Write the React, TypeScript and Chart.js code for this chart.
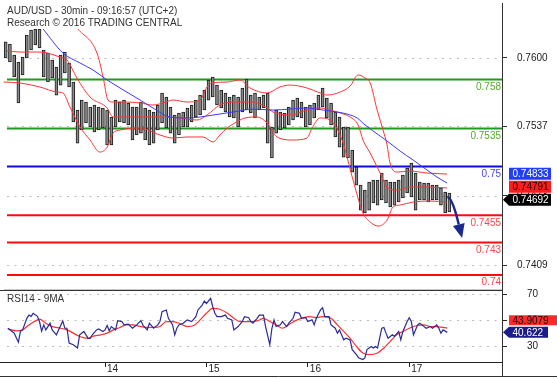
import React, { useEffect, useRef } from 'react';
import { Chart, registerables } from 'chart.js';

Chart.register(...registerables);

const FONT = "'Liberation Sans', Arial, Helvetica, sans-serif";
Chart.defaults.font.family = FONT;

// ---- texts ----
const titleLine1 = 'AUD/USD - 30min - 09:16:57 (UTC+2)';
const titleLine2 = 'Research © 2016 TRADING CENTRAL';
const rsiTitle = 'RSI14 - 9MA';

// ---- x axis (30-min bar index, day boundaries) ----
const dayTickBars = [48, 96, 144, 192];
const dayLabels = ['14', '15', '16', '17'];
const X_MIN = -1.7;
const X_MAX = 235.9;

// ---- price axis ----
const priceTicks = [0.7409, 0.7473, 0.7537, 0.76];
const Y_MIN = 0.738711;
const Y_MAX = 0.762652;

// ---- hourly bars (high / low) ----
const barHigh = [
  0.76146, 0.76127, 0.76026, 0.75961, 0.76007, 0.7621, 0.76256, 0.76265, 0.76265, 0.76072,
  0.76044, 0.7598, 0.75915, 0.76026, 0.76053, 0.75952, 0.75777, 0.75519, 0.75611, 0.75593,
  0.75547, 0.75565, 0.75547, 0.75538, 0.75519, 0.75455, 0.75611, 0.75593, 0.75611, 0.75584,
  0.75547, 0.75547, 0.75593, 0.75538, 0.75519, 0.75501, 0.75565, 0.75676, 0.75639, 0.75547,
  0.75473, 0.75492, 0.75501, 0.75538, 0.75565, 0.75611, 0.75657, 0.75703, 0.75796, 0.75823,
  0.75749, 0.75703, 0.75676, 0.75639, 0.75657, 0.75639, 0.75722, 0.75805, 0.75657, 0.75676,
  0.75639, 0.75657, 0.75676, 0.75363, 0.75519, 0.75501, 0.75492, 0.75547, 0.75611, 0.7563,
  0.75593, 0.75547, 0.75565, 0.75584, 0.75657, 0.75722, 0.7563, 0.75584, 0.75501, 0.75455,
  0.75363, 0.75363, 0.75151, 0.74994, 0.74828, 0.74782, 0.74856, 0.74874, 0.74874, 0.74939,
  0.74874, 0.74856, 0.74856, 0.74874, 0.7492, 0.74985, 0.75031, 0.74939, 0.74856, 0.74847,
  0.74847, 0.74828, 0.74828, 0.74801, 0.74764, 0.74755,
];
const barLow = [
  0.75998, 0.75961, 0.75823, 0.75584, 0.75842, 0.75998, 0.76072, 0.76118, 0.7609, 0.75823,
  0.75777, 0.75814, 0.75657, 0.75749, 0.7586, 0.75731, 0.75409, 0.75215, 0.75335, 0.754,
  0.75363, 0.75317, 0.75335, 0.75354, 0.75197, 0.75197, 0.75363, 0.75409, 0.754, 0.75381,
  0.75243, 0.75289, 0.75307, 0.75243, 0.75197, 0.75215, 0.75335, 0.754, 0.75354, 0.75307,
  0.75215, 0.75289, 0.75363, 0.75363, 0.75409, 0.75455, 0.75473, 0.75519, 0.75611, 0.75639,
  0.75565, 0.75538, 0.75501, 0.75455, 0.75446, 0.75363, 0.75501, 0.75519, 0.75492, 0.75446,
  0.75519, 0.75538, 0.75215, 0.75077, 0.75307, 0.75335, 0.75354, 0.75381, 0.75427, 0.75455,
  0.75446, 0.75363, 0.75381, 0.75446, 0.75519, 0.75547, 0.75446, 0.75381, 0.75271, 0.75178,
  0.75086, 0.75077, 0.74948, 0.74828, 0.74598, 0.74571, 0.74598, 0.74663, 0.74644, 0.74691,
  0.74663, 0.74626, 0.74644, 0.74672, 0.74709, 0.74755, 0.74718, 0.74598, 0.74691, 0.74691,
  0.74672, 0.74691, 0.74691, 0.74644, 0.74571, 0.7458,
];

// ---- Bollinger bands & moving average: [bar index, price] ----
const bbUpper = [
  [35.2, 0.76265], [44.2, 0.76044], [47.1, 0.75823], [49.4, 0.75611], [51.8, 0.75593],
  [57.5, 0.75593], [64.6, 0.75584], [70.7, 0.75565], [75.5, 0.75584], [80.2, 0.75611],
  [86.8, 0.75593], [93.0, 0.75611], [96.3, 0.75731], [98.7, 0.75768], [105.8, 0.75777],
  [111.9, 0.75796], [116.6, 0.75722], [124.7, 0.75676], [130.8, 0.75731], [135.6, 0.75749],
  [143.6, 0.75722], [149.8, 0.75676], [153.1, 0.75657], [159.3, 0.75685], [164.0, 0.7574],
  [167.8, 0.75842], [171.1, 0.75814], [173.5, 0.75768], [176.8, 0.75519], [179.6, 0.75335],
  [181.5, 0.75197], [182.9, 0.75031], [186.2, 0.74948], [192.4, 0.74957], [200.4, 0.74939],
  [209.9, 0.7493],
];
const bbMiddle = [
  [1.6, 0.76063], [7.8, 0.76053], [17.2, 0.76053], [26.7, 0.76007], [30.0, 0.7598],
  [34.7, 0.75814], [40.9, 0.75639], [49.0, 0.75538], [51.8, 0.75455], [55.1, 0.75455],
  [64.6, 0.75455], [74.0, 0.75455], [83.5, 0.75446], [91.6, 0.75427], [96.3, 0.75473],
  [102.4, 0.75565], [108.6, 0.75593], [114.3, 0.75593], [118.1, 0.75593], [124.7, 0.75538],
  [127.5, 0.75501], [135.6, 0.75473], [143.6, 0.75519], [149.8, 0.75538], [154.5, 0.75519],
  [159.3, 0.75492], [164.0, 0.75455], [167.8, 0.75381], [170.1, 0.75243], [173.5, 0.75123],
  [178.2, 0.74939], [181.5, 0.7481], [186.2, 0.74782], [192.4, 0.7481], [200.4, 0.7481],
  [209.9, 0.74801],
];
const bbLower = [
  [0, 0.75777], [7.8, 0.75768], [17.2, 0.75731], [25.3, 0.75685], [28.1, 0.75676],
  [31.4, 0.75547], [36.2, 0.75363], [40.9, 0.75243], [45.6, 0.75132], [49.0, 0.75178],
  [51.8, 0.75307], [55.1, 0.75335], [64.6, 0.75354], [74.0, 0.75289], [80.2, 0.75261],
  [86.8, 0.75271], [94.4, 0.75271], [99.1, 0.75225], [102.4, 0.75289], [105.8, 0.75354],
  [109.5, 0.754], [114.3, 0.75446], [120.0, 0.75455], [124.7, 0.754], [129.4, 0.75271],
  [137.0, 0.75243], [143.6, 0.75261], [146.0, 0.75354], [149.8, 0.75446], [154.5, 0.75427],
  [160.2, 0.75243], [165.4, 0.74874], [170.1, 0.74571], [173.5, 0.74488], [177.2, 0.74451],
  [181.5, 0.74506], [184.3, 0.74626], [187.6, 0.74644], [193.8, 0.74672], [201.8, 0.74681],
  [209.9, 0.74672],
];
const maLine = [
  [18.7, 0.76265], [28.1, 0.76044], [36.2, 0.75952], [42.3, 0.75888], [49.0, 0.75796],
  [55.1, 0.75722], [64.6, 0.75611], [70.7, 0.75538], [78.8, 0.75455], [86.8, 0.75446],
  [93.0, 0.75455], [99.1, 0.75473], [108.6, 0.75501], [118.1, 0.75528], [127.5, 0.75519],
  [135.6, 0.75528], [143.6, 0.75538], [151.2, 0.75519], [157.8, 0.75501], [162.6, 0.75482],
  [167.3, 0.75446], [171.1, 0.75381], [178.2, 0.7528], [181.5, 0.75234], [187.6, 0.75142],
  [193.8, 0.75059], [200.4, 0.74967], [205.1, 0.74902], [209.9, 0.74847],
];

// ---- key levels ----
const levelValues = [0.758, 0.7535, 0.75, 0.7455, 0.743, 0.74];
const levelLabels = ['0.758', '0.7535', '0.75', '0.7455', '0.743', '0.74'];
const levelKinds = ['green', 'green', 'blue', 'red', 'red', 'red'];
const levelStartBar = 1.6;

// ---- last values ----
const lastClose = 0.74692;
const lastMiddle = 0.74791;
const lastMa = 0.74833;

// ---- forecast arrow [bar, price] ----
const forecastFrom = [210, 0.74718];
const forecastBend = [212.3, 0.74718];
const forecastTo = [217, 0.7434];

// ---- RSI14 and its 9MA ----
const rsiBars = [
  2, 4, 5, 7, 8, 9, 11, 12, 13, 14, 16, 17, 18, 19, 20, 22, 23, 25, 26, 28,
  29, 30, 31, 33, 35, 36, 38, 39, 40, 41, 42, 44, 45, 47, 48, 49, 50, 51, 53, 54,
  56, 57, 59, 61, 62, 63, 65, 66, 68, 69, 71, 73, 74, 75, 77, 78, 80, 81, 82, 83,
  85, 86, 87, 89, 91, 92, 94, 95, 96, 98, 99, 100, 101, 103, 105, 106, 108, 109, 111, 113,
  114, 116, 117, 118, 120, 121, 123, 124, 126, 127, 128, 129, 131, 132, 134, 135, 137, 138, 140, 141,
  143, 144, 146, 147, 148, 150, 151, 152, 154, 155, 157, 158, 159, 161, 162, 164, 165, 167, 168, 170,
  171, 172, 174, 175, 176, 177, 179, 180, 181, 182, 184, 185, 187, 188, 189, 191, 192, 193, 194, 196,
  197, 198, 200, 202, 203, 205, 206, 207, 208, 210,
];
const rsiValues = [
  43.8, 41.3, 40, 33, 41.5, 42.5, 51.5, 54, 53, 55.4, 53, 49, 41.5, 46.4, 42.5, 47.7, 42.5, 38.7, 42.5, 49.5,
  43.8, 43.8, 32.3, 31, 28.5, 38.7, 41.3, 38.7, 36, 36, 38.7, 42.5, 43.3, 41.3, 42.5, 45.9, 41.8, 45.1, 42.5, 49.7,
  49, 46.4, 47, 43.8, 45.1, 46.4, 49.7, 45.9, 42.5, 47.7, 43.8, 46.4, 49, 56.7, 58, 51.5, 46.4, 38.7, 43.8, 46.4,
  47.7, 49, 50.3, 49, 52.8, 58, 61.8, 64.9, 63, 67, 60.5, 55.4, 52.8, 52.8, 54, 51.5, 50.3, 42.5, 45.1, 49,
  52.8, 52, 49, 47.7, 51.5, 54, 54, 45.1, 31, 43.8, 50.3, 45.1, 46.4, 49, 45.1, 47.7, 51.5, 56.2, 55.4, 51.5,
  52, 49, 50.3, 46.4, 51.5, 58, 59.7, 52.8, 52.8, 46.4, 43.8, 40, 42.5, 34.8, 36, 34.8, 27.2, 23.3, 20.8, 19.5,
  20.8, 27.2, 29.7, 28.5, 29.7, 28.5, 43.8, 44.4, 40, 36, 38.7, 37.4, 41.3, 34.8, 41.3, 49, 52, 49, 38.7, 46.4,
  47.7, 46.4, 43.8, 45.1, 43.8, 46.4, 43.8, 40, 42.5, 40.6,
];
const rsiMaBars = [
  2, 6, 9, 12, 16, 17, 20, 23, 27, 30, 33, 36, 40, 42, 46, 49, 52, 55, 58, 61,
  65, 68, 71, 74, 77, 80, 83, 87, 90, 93, 96, 99, 102, 106, 109, 112, 116, 120, 123, 126,
  129, 132, 136, 139, 142, 145, 148, 151, 155, 158, 161, 164, 167, 170, 173, 177, 180, 183, 186, 189,
  192, 196, 199, 202, 205, 208, 210,
];
const rsiMaValues = [
  43.3, 41.8, 42.5, 46.4, 50.3, 50.8, 47.7, 45.1, 43.8, 42.5, 40, 37.4, 36, 37.4, 38.7, 40, 42.5, 44.4, 46.4, 46.4,
  45.1, 44.4, 44.4, 45.1, 49, 49, 47.7, 45.1, 45.9, 50.3, 55.4, 59.2, 58.7, 55.4, 51.5, 49, 49, 49.5, 51.5, 49,
  46.4, 43.8, 47.7, 50.3, 52, 52.8, 52, 52.8, 51.5, 46.4, 41.3, 36, 29.7, 24.6, 23.3, 24.6, 28.5, 33.6, 38.7, 41.3,
  43.8, 45.9, 46.4, 45.1, 45.1, 44.4, 43.9,
];
const rsiTicks = [30, 50, 70];
const RSI_MIN = 17.6;
const RSI_MAX = 72.7;
const lastRsi = 40.622;
const lastRsiMa = 43.9079;

// ---- styles ----
const LINE_COLORS: Record<string, string> = { green: '#1e9b1e', blue: '#0c0ce6', red: '#ff0a0a' };
const LABEL_COLORS: Record<string, string> = { green: '#55aa28', blue: '#4646ff', red: '#ff4646' };
const AXIS = '#333333';

function drawDotted(ctx: CanvasRenderingContext2D, x0: number, x1: number, y: number) {
  ctx.save();
  ctx.strokeStyle = '#bcbcbc';
  ctx.lineWidth = 1;
  ctx.setLineDash([2, 5.5]);
  ctx.beginPath();
  const py = Math.round(y) + 0.5;
  ctx.moveTo(x0, py);
  ctx.lineTo(x1, py);
  ctx.stroke();
  ctx.restore();
}

function drawTag(
  ctx: CanvasRenderingContext2D,
  yc: number,
  h: number,
  right: number,
  bg: string,
  fg: string,
  text: string,
  arrow: boolean
) {
  const left = 509;
  ctx.save();
  ctx.fillStyle = bg;
  ctx.beginPath();
  if (arrow) {
    ctx.moveTo(503, yc);
    ctx.lineTo(left, yc - h / 2);
  } else {
    ctx.moveTo(left, yc - h / 2);
  }
  ctx.lineTo(right, yc - h / 2);
  ctx.lineTo(right, yc + h / 2);
  ctx.lineTo(left, yc + h / 2);
  ctx.closePath();
  ctx.fill();
  ctx.fillStyle = fg;
  ctx.font = `10px ${FONT}`;
  ctx.textAlign = 'left';
  ctx.textBaseline = 'middle';
  ctx.fillText(text, left + 3.5, yc + 0.5);
  ctx.restore();
}

const noPad = (s: any) => {
  s.paddingTop = 0;
  s.paddingBottom = 0;
  s.paddingLeft = 0;
  s.paddingRight = 0;
};

const mainPlugin = {
  id: 'mainDecor',
  beforeDatasetsDraw(chart: any) {
    const { ctx, chartArea, scales } = chart;
    for (const v of priceTicks) drawDotted(ctx, 7, chartArea.right, scales.y.getPixelForValue(v));
  },
  afterDatasetsDraw(chart: any) {
    const { ctx, chartArea, scales } = chart;
    const xs = scales.x;
    const ys = scales.y;
    // forecast arrow
    const sx = xs.getPixelForValue(forecastFrom[0]);
    const sy = ys.getPixelForValue(forecastFrom[1]);
    const cx = xs.getPixelForValue(forecastBend[0]);
    const cy = ys.getPixelForValue(forecastBend[1]);
    const tx = xs.getPixelForValue(forecastTo[0]);
    const ty = ys.getPixelForValue(forecastTo[1]);
    const dx = tx - cx;
    const dy = ty - cy;
    const len = Math.hypot(dx, dy);
    const ux = dx / len;
    const uy = dy / len;
    const bx = tx - ux * 14;
    const by = ty - uy * 14;
    ctx.save();
    ctx.strokeStyle = '#1b2a8e';
    ctx.fillStyle = '#1b2a8e';
    ctx.lineWidth = 2.5;
    ctx.beginPath();
    ctx.moveTo(sx, sy);
    ctx.quadraticCurveTo(cx, cy, bx, by);
    ctx.stroke();
    ctx.beginPath();
    ctx.moveTo(tx, ty);
    ctx.lineTo(bx - uy * 6, by + ux * 6);
    ctx.lineTo(bx + uy * 6, by - ux * 6);
    ctx.closePath();
    ctx.fill();
    ctx.restore();
    // level labels
    ctx.save();
    ctx.font = `10px ${FONT}`;
    ctx.textAlign = 'right';
    ctx.textBaseline = 'middle';
    levelValues.forEach((v, i) => {
      ctx.fillStyle = LABEL_COLORS[levelKinds[i]];
      ctx.fillText(levelLabels[i], chartArea.right - 1, ys.getPixelForValue(v) + 7.5);
    });
    ctx.restore();
  },
  afterDraw(chart: any) {
    const { ctx, chartArea, scales } = chart;
    const ys = scales.y;
    ctx.save();
    ctx.fillStyle = '#333333';
    ctx.font = `10px ${FONT}`;
    ctx.textAlign = 'left';
    ctx.textBaseline = 'alphabetic';
    ctx.fillText(titleLine1, 7, 14);
    ctx.fillText(titleLine2, 7, 26);
    // axis line extensions
    ctx.strokeStyle = AXIS;
    ctx.lineWidth = 1;
    ctx.beginPath();
    ctx.moveTo(chartArea.right + 0.5, 3);
    ctx.lineTo(chartArea.right + 0.5, chartArea.top);
    ctx.moveTo(chartArea.right + 0.5, chartArea.bottom);
    ctx.lineTo(chartArea.right + 0.5, chart.height);
    ctx.stroke();
    ctx.strokeStyle = '#c8c8c8';
    ctx.beginPath();
    ctx.moveTo(4, chartArea.bottom + 0.5);
    ctx.lineTo(chartArea.right, chartArea.bottom + 0.5);
    ctx.stroke();
    ctx.restore();
    // value tags
    const yClose = ys.getPixelForValue(lastClose);
    const yMid = Math.min(ys.getPixelForValue(lastMiddle), yClose - 13);
    const yMa = Math.min(ys.getPixelForValue(lastMa), yMid - 13);
    drawTag(ctx, yMa, 12, 551, '#1f3dff', '#ffffff', lastMa.toFixed(5), false);
    drawTag(ctx, yMid, 12, 551, '#ff1c1c', '#1a0000', lastMiddle.toFixed(5), false);
    drawTag(ctx, yClose, 12, 551, '#000000', '#ffffff', lastClose.toFixed(5), true);
  },
};

const rsiPlugin = {
  id: 'rsiDecor',
  beforeDatasetsDraw(chart: any) {
    const { ctx, chartArea, scales } = chart;
    for (const v of rsiTicks) drawDotted(ctx, 7, chartArea.right, scales.y.getPixelForValue(v));
  },
  afterDraw(chart: any) {
    const { ctx, chartArea, scales } = chart;
    const ys = scales.y;
    const top = chartArea.top - 1;
    ctx.save();
    ctx.fillStyle = '#333333';
    ctx.font = `10px ${FONT}`;
    ctx.textAlign = 'left';
    ctx.textBaseline = 'alphabetic';
    ctx.fillText(rsiTitle, 7, top + 12);
    ctx.strokeStyle = AXIS;
    ctx.lineWidth = 1;
    ctx.beginPath();
    ctx.moveTo(0, top + 0.5);
    ctx.lineTo(chartArea.right + 0.5, top + 0.5);
    ctx.moveTo(chartArea.right + 0.5, top);
    ctx.lineTo(chartArea.right + 0.5, chartArea.bottom + 14);
    ctx.moveTo(0, chartArea.bottom + 14.5);
    ctx.lineTo(chart.width, chartArea.bottom + 14.5);
    ctx.stroke();
    ctx.restore();
    const yRsi = ys.getPixelForValue(lastRsi);
    const yRsiMa = Math.min(ys.getPixelForValue(lastRsiMa), yRsi - 12);
    drawTag(ctx, yRsiMa, 10, 557, '#ff2a2a', '#1a0000', String(lastRsiMa), false);
    drawTag(ctx, yRsi, 11, 548, '#1c1c8c', '#ffffff', String(lastRsi), true);
  },
};

const pairs = (pts: number[][]) => pts.map(([x, y]) => ({ x, y }));

export default function App() {
  const mainRef = useRef<HTMLCanvasElement>(null);
  const rsiRef = useRef<HTMLCanvasElement>(null);

  useEffect(() => {
    const bandStyle = {
      type: 'line' as const,
      borderColor: '#ff3535',
      borderWidth: 1,
      pointRadius: 0,
      fill: false,
      cubicInterpolationMode: 'monotone' as const,
      order: 2,
    };
    const levelSets = levelValues.map((v, i) => ({
      type: 'line' as const,
      data: [
        { x: levelStartBar, y: v },
        { x: X_MAX, y: v },
      ],
      borderColor: LINE_COLORS[levelKinds[i]],
      borderWidth: 2,
      pointRadius: 0,
      fill: false,
      order: 10,
    }));
    const main = new Chart(mainRef.current as HTMLCanvasElement, {
      type: 'bar',
      data: {
        datasets: [
          ...levelSets,
          {
            type: 'bar',
            data: barHigh.map((h, i) => ({ x: 2 * i + 1, y: [barLow[i], h] })),
            backgroundColor: '#8a8a8a',
            borderColor: '#1e1e1e',
            borderWidth: 1,
            borderSkipped: false,
            barThickness: 3,
            order: 5,
          },
          { ...bandStyle, data: pairs(bbUpper) },
          { ...bandStyle, data: pairs(bbMiddle) },
          { ...bandStyle, data: pairs(bbLower) },
          {
            type: 'line',
            data: pairs(maLine),
            borderColor: '#3a3aff',
            borderWidth: 1,
            pointRadius: 0,
            fill: false,
            cubicInterpolationMode: 'monotone',
            order: 1,
          },
        ] as any,
      },
      options: {
        responsive: false,
        animation: false,
        devicePixelRatio: 1,
        events: [],
        layout: { padding: { top: 29, bottom: 1, left: 0, right: 0 } },
        plugins: { legend: { display: false }, tooltip: { enabled: false } },
        scales: {
          x: { type: 'linear', min: X_MIN, max: X_MAX, bounds: 'data', offset: false, display: false },
          y: {
            type: 'linear',
            position: 'right',
            min: Y_MIN,
            max: Y_MAX,
            bounds: 'data',
            afterFit: (s: any) => {
              s.width = 55;
              noPad(s);
            },
            afterBuildTicks: (s: any) => {
              s.ticks = priceTicks.map((v) => ({ value: v }));
            },
            grid: { drawOnChartArea: false, drawTicks: true, tickLength: 5, tickColor: AXIS },
            border: { display: true, color: AXIS },
            ticks: {
              padding: 10,
              color: '#222222',
              font: { size: 10, family: FONT },
              callback: (v: any) => Number(v).toFixed(4),
            },
          },
        },
      } as any,
      plugins: [mainPlugin],
    });

    const rsi = new Chart(rsiRef.current as HTMLCanvasElement, {
      type: 'line',
      data: {
        datasets: [
          {
            data: rsiMaBars.map((b, i) => ({ x: b, y: rsiMaValues[i] })),
            borderColor: '#ff3030',
            borderWidth: 1.2,
            pointRadius: 0,
            fill: false,
            cubicInterpolationMode: 'monotone',
            order: 2,
          },
          {
            data: rsiBars.map((b, i) => ({ x: b, y: rsiValues[i] })),
            borderColor: '#2a2a98',
            borderWidth: 1.2,
            pointRadius: 0,
            fill: false,
            tension: 0,
            order: 1,
          },
        ] as any,
      },
      options: {
        responsive: false,
        animation: false,
        devicePixelRatio: 1,
        events: [],
        layout: { padding: { top: 11, bottom: 0, left: 0, right: 0 } },
        plugins: { legend: { display: false }, tooltip: { enabled: false } },
        scales: {
          x: {
            type: 'linear',
            min: X_MIN,
            max: X_MAX,
            bounds: 'data',
            offset: false,
            afterBuildTicks: (s: any) => {
              s.ticks = dayTickBars.map((v) => ({ value: v }));
            },
            afterFit: (s: any) => {
              s.height = 17;
              noPad(s);
            },
            grid: { drawOnChartArea: false, drawTicks: true, tickLength: 5, tickColor: '#222222' },
            border: { display: true, color: '#222222' },
            ticks: {
              align: 'start',
              labelOffset: 2,
              padding: -4,
              maxRotation: 0,
              autoSkip: false,
              color: '#222222',
              font: { size: 10, family: FONT },
              callback: (v: any) => {
                const i = dayTickBars.indexOf(Number(v));
                return i >= 0 ? dayLabels[i] : '';
              },
            },
          },
          y: {
            type: 'linear',
            position: 'right',
            min: RSI_MIN,
            max: RSI_MAX,
            bounds: 'data',
            afterBuildTicks: (s: any) => {
              s.ticks = rsiTicks.map((v) => ({ value: v }));
            },
            afterFit: (s: any) => {
              s.width = 55;
              noPad(s);
            },
            grid: { drawOnChartArea: false, drawTicks: true, tickLength: 5, tickColor: '#222222' },
            border: { display: true, color: '#222222' },
            ticks: {
              padding: 20,
              color: '#222222',
              font: { size: 10, family: FONT },
              callback: (v: any) => String(v),
            },
          },
        },
      } as any,
      plugins: [rsiPlugin],
    });

    return () => {
      main.destroy();
      rsi.destroy();
    };
  }, []);

  return (
    <div style={{ position: 'absolute', left: 0, top: 0, width: 557, height: 379, background: '#ffffff' }}>
      <canvas
        ref={mainRef}
        width={557}
        height={290}
        style={{ position: 'absolute', left: 0, top: 0, width: 557, height: 290 }}
      />
      <canvas
        ref={rsiRef}
        width={557}
        height={99}
        style={{ position: 'absolute', left: 0, top: 280, width: 557, height: 99 }}
      />
    </div>
  );
}
